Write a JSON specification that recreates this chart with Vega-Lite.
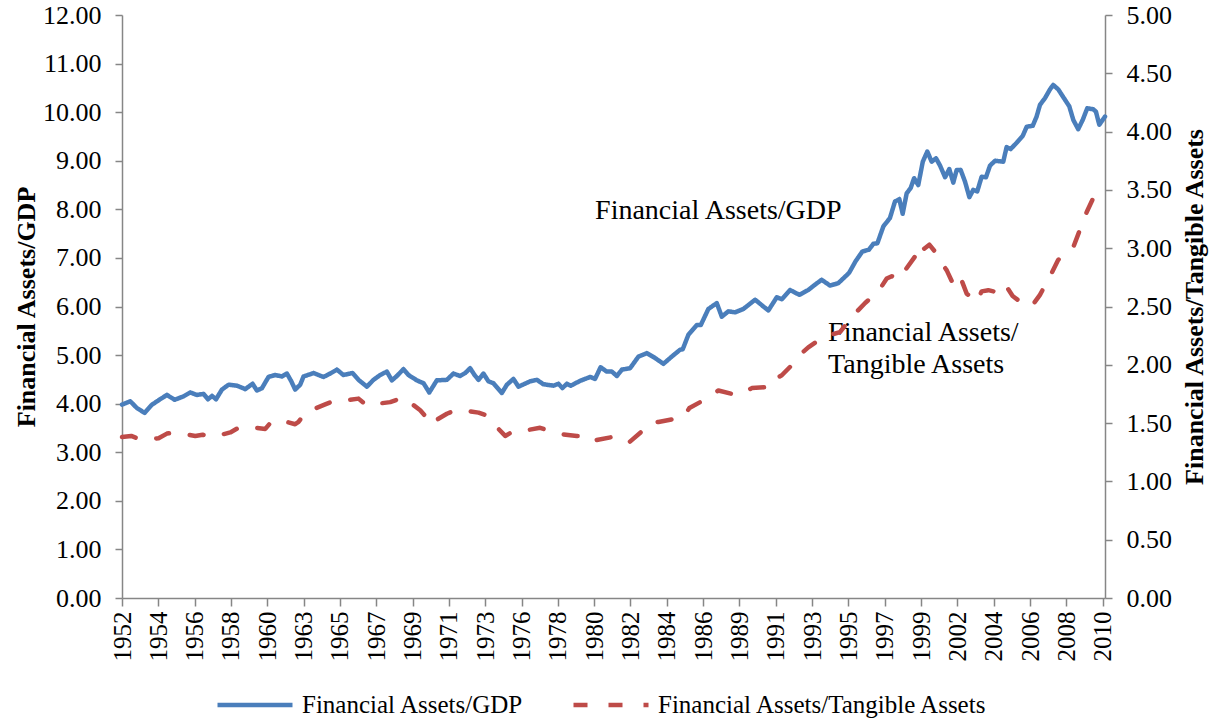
{
  "$schema": "https://vega.github.io/schema/vega-lite/v6.json",
  "width": 983,
  "height": 583,
  "autosize": {"type": "none"},
  "padding": {"left": 122, "top": 15, "right": 109, "bottom": 125},
  "config": {
    "view": {"stroke": null},
    "font": "Liberation Serif",
    "axis": {
      "grid": false,
      "domainColor": "#868686",
      "tickColor": "#868686",
      "domainWidth": 1.5,
      "tickWidth": 1.5,
      "labelFont": "Liberation Serif",
      "labelFontSize": 25,
      "labelColor": "#000000",
      "titleFont": "Liberation Serif",
      "titleFontSize": 26,
      "titleFontWeight": "bold",
      "titleColor": "#000000",
      "labelFlush": false,
      "labelOverlap": false
    }
  },
  "datasets": {
    "gdp": [
      {"t": 1952.25, "v": 3.98}, {"t": 1952.74, "v": 4.05}, {"t": 1953.14, "v": 3.91}, {"t": 1953.6, "v": 3.81},
      {"t": 1954.04, "v": 3.98}, {"t": 1954.43, "v": 4.07}, {"t": 1954.93, "v": 4.18}, {"t": 1955.39, "v": 4.08},
      {"t": 1955.92, "v": 4.15}, {"t": 1956.32, "v": 4.23}, {"t": 1956.72, "v": 4.18}, {"t": 1957.12, "v": 4.2},
      {"t": 1957.38, "v": 4.09}, {"t": 1957.62, "v": 4.16}, {"t": 1957.86, "v": 4.09}, {"t": 1958.21, "v": 4.29},
      {"t": 1958.61, "v": 4.39}, {"t": 1959.11, "v": 4.37}, {"t": 1959.6, "v": 4.3}, {"t": 1960.04, "v": 4.41},
      {"t": 1960.3, "v": 4.27}, {"t": 1960.6, "v": 4.32}, {"t": 1960.99, "v": 4.55}, {"t": 1961.39, "v": 4.59},
      {"t": 1961.79, "v": 4.56}, {"t": 1962.09, "v": 4.62}, {"t": 1962.35, "v": 4.46}, {"t": 1962.58, "v": 4.29},
      {"t": 1962.88, "v": 4.39}, {"t": 1963.08, "v": 4.56}, {"t": 1963.68, "v": 4.63}, {"t": 1964.27, "v": 4.55},
      {"t": 1964.67, "v": 4.62}, {"t": 1965.07, "v": 4.7}, {"t": 1965.46, "v": 4.59}, {"t": 1966.0, "v": 4.63},
      {"t": 1966.36, "v": 4.49}, {"t": 1966.86, "v": 4.35}, {"t": 1967.25, "v": 4.49}, {"t": 1967.65, "v": 4.59},
      {"t": 1968.05, "v": 4.66}, {"t": 1968.35, "v": 4.48}, {"t": 1968.65, "v": 4.57}, {"t": 1969.04, "v": 4.71},
      {"t": 1969.34, "v": 4.59}, {"t": 1969.84, "v": 4.48}, {"t": 1970.24, "v": 4.42}, {"t": 1970.58, "v": 4.23},
      {"t": 1971.03, "v": 4.48}, {"t": 1971.63, "v": 4.49}, {"t": 1972.02, "v": 4.62}, {"t": 1972.42, "v": 4.57},
      {"t": 1972.72, "v": 4.63}, {"t": 1973.02, "v": 4.73}, {"t": 1973.28, "v": 4.59}, {"t": 1973.52, "v": 4.49},
      {"t": 1973.81, "v": 4.62}, {"t": 1974.11, "v": 4.46}, {"t": 1974.41, "v": 4.42}, {"t": 1974.91, "v": 4.22},
      {"t": 1975.21, "v": 4.39}, {"t": 1975.6, "v": 4.51}, {"t": 1975.9, "v": 4.35}, {"t": 1976.6, "v": 4.46},
      {"t": 1977.0, "v": 4.49}, {"t": 1977.39, "v": 4.4}, {"t": 1977.99, "v": 4.37}, {"t": 1978.29, "v": 4.41},
      {"t": 1978.52, "v": 4.32}, {"t": 1978.79, "v": 4.41}, {"t": 1979.02, "v": 4.37}, {"t": 1979.58, "v": 4.47},
      {"t": 1980.18, "v": 4.55}, {"t": 1980.47, "v": 4.51}, {"t": 1980.8, "v": 4.75}, {"t": 1981.17, "v": 4.66},
      {"t": 1981.47, "v": 4.66}, {"t": 1981.77, "v": 4.57}, {"t": 1982.07, "v": 4.7}, {"t": 1982.56, "v": 4.73},
      {"t": 1983.06, "v": 4.97}, {"t": 1983.56, "v": 5.04}, {"t": 1984.05, "v": 4.94}, {"t": 1984.55, "v": 4.82},
      {"t": 1985.05, "v": 4.97}, {"t": 1985.54, "v": 5.11}, {"t": 1985.7, "v": 5.12}, {"t": 1986.04, "v": 5.42},
      {"t": 1986.54, "v": 5.62}, {"t": 1986.78, "v": 5.62}, {"t": 1987.23, "v": 5.95}, {"t": 1987.73, "v": 6.07},
      {"t": 1988.03, "v": 5.79}, {"t": 1988.42, "v": 5.9}, {"t": 1988.82, "v": 5.88}, {"t": 1989.32, "v": 5.95},
      {"t": 1990.02, "v": 6.14}, {"t": 1990.51, "v": 6.0}, {"t": 1990.81, "v": 5.92}, {"t": 1991.31, "v": 6.19},
      {"t": 1991.61, "v": 6.15}, {"t": 1992.1, "v": 6.34}, {"t": 1992.66, "v": 6.24}, {"t": 1993.19, "v": 6.34},
      {"t": 1993.59, "v": 6.45}, {"t": 1993.99, "v": 6.55}, {"t": 1994.49, "v": 6.43}, {"t": 1994.98, "v": 6.48},
      {"t": 1995.62, "v": 6.69}, {"t": 1996.01, "v": 6.93}, {"t": 1996.41, "v": 7.13}, {"t": 1996.81, "v": 7.17},
      {"t": 1997.07, "v": 7.29}, {"t": 1997.31, "v": 7.3}, {"t": 1997.67, "v": 7.65}, {"t": 1998.06, "v": 7.82},
      {"t": 1998.36, "v": 8.16}, {"t": 1998.62, "v": 8.21}, {"t": 1998.82, "v": 7.91}, {"t": 1999.06, "v": 8.33},
      {"t": 1999.3, "v": 8.44}, {"t": 1999.5, "v": 8.64}, {"t": 1999.75, "v": 8.5}, {"t": 2000.02, "v": 8.98},
      {"t": 2000.29, "v": 9.19}, {"t": 2000.55, "v": 8.98}, {"t": 2000.81, "v": 9.05}, {"t": 2001.05, "v": 8.9},
      {"t": 2001.35, "v": 8.66}, {"t": 2001.6, "v": 8.83}, {"t": 2001.84, "v": 8.55}, {"t": 2002.04, "v": 8.81},
      {"t": 2002.28, "v": 8.81}, {"t": 2002.54, "v": 8.57}, {"t": 2002.8, "v": 8.25}, {"t": 2003.03, "v": 8.4},
      {"t": 2003.27, "v": 8.37}, {"t": 2003.53, "v": 8.67}, {"t": 2003.79, "v": 8.66}, {"t": 2004.03, "v": 8.9},
      {"t": 2004.33, "v": 9.0}, {"t": 2004.82, "v": 8.98}, {"t": 2005.02, "v": 9.28}, {"t": 2005.26, "v": 9.24},
      {"t": 2005.62, "v": 9.37}, {"t": 2005.98, "v": 9.51}, {"t": 2006.22, "v": 9.7}, {"t": 2006.58, "v": 9.72},
      {"t": 2006.81, "v": 9.91}, {"t": 2007.01, "v": 10.15}, {"t": 2007.31, "v": 10.29}, {"t": 2007.61, "v": 10.47},
      {"t": 2007.8, "v": 10.56}, {"t": 2008.1, "v": 10.47}, {"t": 2008.4, "v": 10.31}, {"t": 2008.76, "v": 10.12},
      {"t": 2009.0, "v": 9.84}, {"t": 2009.29, "v": 9.65}, {"t": 2009.56, "v": 9.84}, {"t": 2009.83, "v": 10.08},
      {"t": 2010.19, "v": 10.06}, {"t": 2010.35, "v": 10.01}, {"t": 2010.55, "v": 9.74}, {"t": 2010.89, "v": 9.91}
    ],
    "tangible": [
      {"t": 1952.25, "v": 1.38}, {"t": 1952.8, "v": 1.39}, {"t": 1953.34, "v": 1.36}, {"t": 1954.43, "v": 1.37},
      {"t": 1954.93, "v": 1.41}, {"t": 1955.43, "v": 1.42}, {"t": 1956.62, "v": 1.39}, {"t": 1957.06, "v": 1.4},
      {"t": 1957.62, "v": 1.38}, {"t": 1958.71, "v": 1.42}, {"t": 1959.2, "v": 1.46}, {"t": 1959.7, "v": 1.47},
      {"t": 1960.8, "v": 1.45}, {"t": 1961.09, "v": 1.5}, {"t": 1961.59, "v": 1.53}, {"t": 1962.58, "v": 1.49},
      {"t": 1962.78, "v": 1.51}, {"t": 1963.18, "v": 1.59}, {"t": 1964.37, "v": 1.66}, {"t": 1964.87, "v": 1.69},
      {"t": 1965.37, "v": 1.69}, {"t": 1966.36, "v": 1.71}, {"t": 1966.86, "v": 1.65}, {"t": 1967.16, "v": 1.66},
      {"t": 1968.25, "v": 1.68}, {"t": 1969.04, "v": 1.72}, {"t": 1970.04, "v": 1.61}, {"t": 1970.34, "v": 1.56},
      {"t": 1970.58, "v": 1.49}, {"t": 1971.63, "v": 1.58}, {"t": 1972.13, "v": 1.61}, {"t": 1972.59, "v": 1.61},
      {"t": 1973.52, "v": 1.59}, {"t": 1973.92, "v": 1.57}, {"t": 1974.31, "v": 1.51}, {"t": 1975.11, "v": 1.39},
      {"t": 1975.6, "v": 1.43}, {"t": 1976.04, "v": 1.43}, {"t": 1977.19, "v": 1.46}, {"t": 1978.19, "v": 1.41},
      {"t": 1979.38, "v": 1.39}, {"t": 1980.07, "v": 1.39}, {"t": 1980.37, "v": 1.35}, {"t": 1981.47, "v": 1.38},
      {"t": 1981.86, "v": 1.36}, {"t": 1982.46, "v": 1.33}, {"t": 1983.35, "v": 1.44}, {"t": 1983.75, "v": 1.5},
      {"t": 1984.25, "v": 1.51}, {"t": 1985.35, "v": 1.54}, {"t": 1985.74, "v": 1.55}, {"t": 1986.1, "v": 1.63},
      {"t": 1987.13, "v": 1.71}, {"t": 1987.83, "v": 1.78}, {"t": 1988.92, "v": 1.74}, {"t": 1989.32, "v": 1.76},
      {"t": 1989.82, "v": 1.8}, {"t": 1990.91, "v": 1.81}, {"t": 1991.11, "v": 1.87}, {"t": 1991.61, "v": 1.91},
      {"t": 1992.5, "v": 2.04}, {"t": 1992.8, "v": 2.1}, {"t": 1993.19, "v": 2.15}, {"t": 1994.09, "v": 2.24},
      {"t": 1994.59, "v": 2.26}, {"t": 1995.08, "v": 2.28}, {"t": 1995.78, "v": 2.41}, {"t": 1996.58, "v": 2.53},
      {"t": 1997.37, "v": 2.63}, {"t": 1997.87, "v": 2.74}, {"t": 1998.17, "v": 2.76}, {"t": 1998.56, "v": 2.73},
      {"t": 1998.82, "v": 2.78}, {"t": 1998.96, "v": 2.81}, {"t": 1999.56, "v": 2.93}, {"t": 1999.81, "v": 2.89},
      {"t": 1999.96, "v": 2.98}, {"t": 2000.41, "v": 3.03}, {"t": 2000.75, "v": 2.97}, {"t": 2001.01, "v": 2.9},
      {"t": 2001.45, "v": 2.81}, {"t": 2001.84, "v": 2.69}, {"t": 2002.24, "v": 2.76}, {"t": 2002.64, "v": 2.61},
      {"t": 2003.27, "v": 2.54}, {"t": 2003.53, "v": 2.63}, {"t": 2003.93, "v": 2.64}, {"t": 2004.82, "v": 2.61},
      {"t": 2005.02, "v": 2.67}, {"t": 2005.38, "v": 2.59}, {"t": 2006.22, "v": 2.5}, {"t": 2006.61, "v": 2.52},
      {"t": 2007.01, "v": 2.6}, {"t": 2007.61, "v": 2.76}, {"t": 2008.1, "v": 2.9}, {"t": 2009.0, "v": 3.01},
      {"t": 2009.4, "v": 3.16}, {"t": 2009.8, "v": 3.31}, {"t": 2010.19, "v": 3.43}, {"t": 2010.59, "v": 3.41},
      {"t": 2010.89, "v": 3.47}
    ],
    "notes": [
      {"label": "Financial Assets/GDP", "t": 1980.47, "v": 7.97},
      {"label": "Financial Assets/", "t": 1994.37, "v": 5.46},
      {"label": "Tangible Assets", "t": 1994.37, "v": 4.8}
    ]
  },
  "layer": [
    {
      "layer": [
        {
          "data": {"name": "gdp"},
          "mark": {"type": "line", "strokeWidth": 4.5, "strokeCap": "round", "strokeJoin": "round"},
          "encoding": {
            "x": {
              "field": "t", "type": "quantitative", "title": null,
              "scale": {"domain": [1952.25, 2010.89], "nice": false, "zero": false},
              "axis": {
                "values": [1952.25, 1954.4167, 1956.5833, 1958.75, 1960.9167, 1963.0833, 1965.25, 1967.4167, 1969.5833, 1971.75, 1973.9167, 1976.0833, 1978.25, 1980.4167, 1982.5833, 1984.75, 1986.9167, 1989.0833, 1991.25, 1993.4167, 1995.5833, 1997.75, 1999.9167, 2002.0833, 2004.25, 2006.4167, 2008.5833, 2010.75],
                "tickCount": 100,
                "labelExpr": "'' + floor(datum.value + 0.001)",
                "labelAngle": -90,
                "labelOverlap": false,
                "labelFlush": false,
                "labelBound": false,
                "tickSize": 8,
                "labelPadding": 5
              }
            },
            "y": {
              "field": "v", "type": "quantitative", "title": "Financial Assets/GDP",
              "scale": {"domain": [0, 12], "nice": false},
              "axis": {"values": [0, 1, 2, 3, 4, 5, 6, 7, 8, 9, 10, 11, 12], "tickCount": 50, "format": ".2f", "labelFontSize": 26, "tickSize": 7, "labelPadding": 14, "titlePadding": 3}
            },
            "color": {
              "datum": "Financial Assets/GDP",
              "scale": {"domain": ["Financial Assets/GDP", "Financial Assets/Tangible Assets"], "range": ["#4A7EBB", "#BE4B48"]},
              "legend": {
                "orient": "none", "legendX": 93, "legendY": 650, "direction": "horizontal", "title": null,
                "labelFont": "Liberation Serif", "labelFontSize": 25, "labelColor": "#000000", "labelLimit": 500,
                "symbolType": "stroke", "symbolSize": 5625, "symbolStrokeWidth": 4.5,
                "labelOffset": 7, "columnPadding": 40, "padding": 0
              }
            },
            "strokeDash": {
              "datum": "Financial Assets/GDP",
              "scale": {"domain": ["Financial Assets/GDP", "Financial Assets/Tangible Assets"], "range": [[1, 0], [14, 21]]}
            }
          }
        },
        {
          "data": {"name": "notes"},
          "mark": {"type": "text", "align": "left", "baseline": "middle", "font": "Liberation Serif", "fontSize": 28, "color": "#000000"},
          "encoding": {
            "x": {"field": "t", "type": "quantitative", "title": null},
            "y": {"field": "v", "type": "quantitative", "title": "Financial Assets/GDP"},
            "text": {"field": "label"}
          }
        }
      ]
    },
    {
      "data": {"name": "tangible"},
      "mark": {"type": "line", "strokeWidth": 4.5, "strokeCap": "round", "strokeJoin": "round"},
      "encoding": {
        "x": {"field": "t", "type": "quantitative", "title": null},
        "y": {
          "field": "v", "type": "quantitative", "title": "Financial Assets/Tangible Assets",
          "scale": {"domain": [0, 5], "nice": false},
          "axis": {"orient": "right", "values": [0, 0.5, 1, 1.5, 2, 2.5, 3, 3.5, 4, 4.5, 5], "tickCount": 50, "format": ".2f", "labelFontSize": 26, "tickSize": 7, "labelPadding": 14, "titlePadding": 10, "titleAngle": 270, "titleBaseline": "top"}
        },
        "color": {"datum": "Financial Assets/Tangible Assets"},
        "strokeDash": {"datum": "Financial Assets/Tangible Assets"}
      }
    }
  ],
  "resolve": {"scale": {"y": "independent"}}
}
